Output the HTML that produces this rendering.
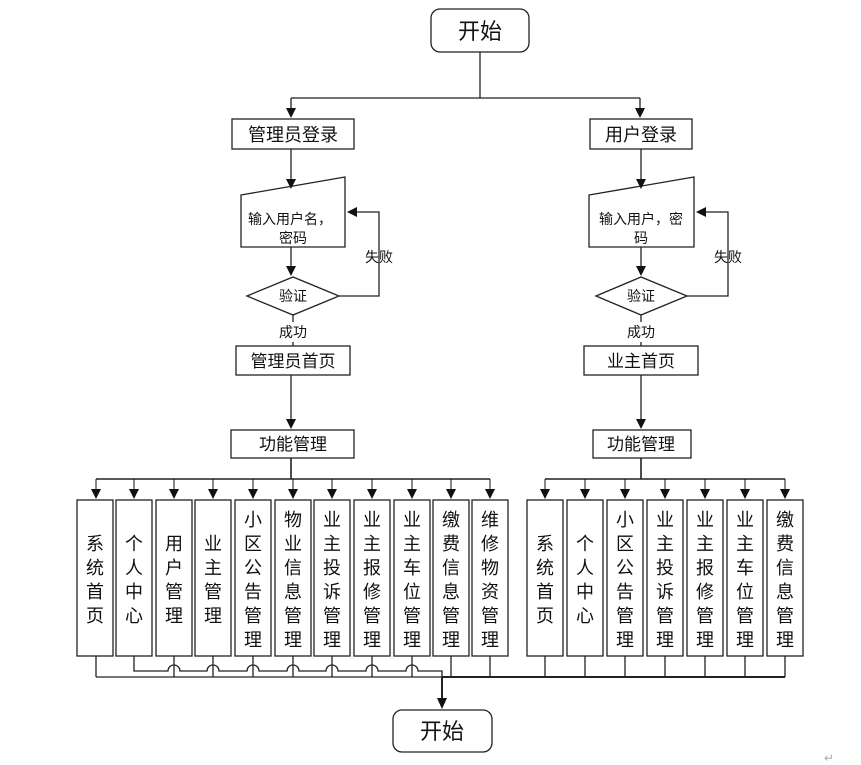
<!DOCTYPE html>
<html><head><meta charset="utf-8"><style>
html,body{margin:0;padding:0;background:#fff;}
svg{display:block;}
text{font-family:"Liberation Sans","Noto Sans CJK SC",sans-serif;fill:#111;}
</style></head><body>
<svg width="861" height="765" viewBox="0 0 861 765" xmlns="http://www.w3.org/2000/svg">
<g stroke="#222" stroke-width="1.3" fill="none">
<rect x="431" y="9" width="98" height="43" rx="9" fill="#fff"/>
<path d="M480 52V98M291 98H640M291 98V110M640 98V110"/>
<rect x="232" y="119" width="122" height="30" fill="#fff"/>
<path d="M291 149V180"/>
<path d="M241 195L345 177V247H241Z" fill="#fff"/>
<path d="M291 247V268"/>
<path d="M247 296L293 277L339 296L293 315Z" fill="#fff"/>
<path d="M339 296H379V212H356"/>
<path d="M293 315V322M293 342V346"/>
<rect x="236" y="346" width="114" height="29" fill="#fff"/>
<path d="M291 375V421"/>
<rect x="231" y="430" width="123" height="28" fill="#fff"/>
<path d="M291 458V479M96 479H490" stroke-width="1.6"/>
<rect x="590" y="119" width="102" height="30" fill="#fff"/>
<path d="M641 149V180"/>
<path d="M589 195L694 177V247H589Z" fill="#fff"/>
<path d="M641 247V268"/>
<path d="M596 296L641 277L687 296L641 315Z" fill="#fff"/>
<path d="M687 296H728V212H705"/>
<path d="M641 315V322M641 342V346"/>
<rect x="584" y="346" width="114" height="29" fill="#fff"/>
<path d="M641 375V421"/>
<rect x="593" y="430" width="98" height="28" fill="#fff"/>
<path d="M641 458V479M545 479H785" stroke-width="1.6"/>
<path d="M96 656V677M490 656V677"/>
<path d="M134 656V671H168a6 6 0 0 1 12 0H207a6 6 0 0 1 12 0H247a6 6 0 0 1 12 0H287a6 6 0 0 1 12 0H326a6 6 0 0 1 12 0H366a6 6 0 0 1 12 0H406a6 6 0 0 1 12 0H442V700"/>
<path d="M174 656V677M213 656V677M253 656V677M293 656V677M332 656V677M372 656V677M412 656V677M451 656V677"/>
<path d="M96 677H442"/>
<path d="M442 677H785" stroke-width="2"/>
<path d="M442 677V700" stroke-width="2"/>
<path d="M545 656V677M585 656V677M625 656V677M665 656V677M705 656V677M745 656V677M785 656V677"/>
<rect x="393" y="710" width="99" height="42" rx="9" fill="#fff"/>
</g>
<g fill="#111">
<path d="M286 108h10l-5 10z"/><path d="M635 108h10l-5 10z"/>
<path d="M286 179h10l-5 10z"/><path d="M636 179h10l-5 10z"/>
<path d="M286 266h10l-5 10z"/><path d="M636 266h10l-5 10z"/>
<path d="M286 419h10l-5 10z"/><path d="M636 419h10l-5 10z"/>
<path d="M357 207v10l-10-5z"/><path d="M706 207v10l-10-5z"/>
<path d="M437 698h10l-5 11z"/>
<path d="M91 489h10l-5 10zM129 489h10l-5 10zM169 489h10l-5 10zM208 489h10l-5 10zM248 489h10l-5 10zM288 489h10l-5 10zM327 489h10l-5 10zM367 489h10l-5 10zM407 489h10l-5 10zM446 489h10l-5 10zM485 489h10l-5 10z"/>
<path d="M540 489h10l-5 10zM580 489h10l-5 10zM620 489h10l-5 10zM660 489h10l-5 10zM700 489h10l-5 10zM740 489h10l-5 10zM780 489h10l-5 10z"/>
</g>
<g stroke="#111" stroke-width="1" fill="none">
<path d="M96 479V489M134 479V489M174 479V489M213 479V489M253 479V489M293 479V489M332 479V489M372 479V489M412 479V489M451 479V489M490 479V489"/>
<path d="M545 479V489M585 479V489M625 479V489M665 479V489M705 479V489M745 479V489M785 479V489"/>
</g>
<g stroke="#222" stroke-width="1.3" fill="#fff">
<rect x="77" y="500" width="36" height="156"/><rect x="116" y="500" width="36" height="156"/><rect x="156" y="500" width="36" height="156"/><rect x="195" y="500" width="36" height="156"/><rect x="235" y="500" width="36" height="156"/><rect x="275" y="500" width="36" height="156"/><rect x="314" y="500" width="36" height="156"/><rect x="354" y="500" width="36" height="156"/><rect x="394" y="500" width="36" height="156"/><rect x="433" y="500" width="36" height="156"/><rect x="472" y="500" width="36" height="156"/>
<rect x="527" y="500" width="36" height="156"/><rect x="567" y="500" width="36" height="156"/><rect x="607" y="500" width="36" height="156"/><rect x="647" y="500" width="36" height="156"/><rect x="687" y="500" width="36" height="156"/><rect x="727" y="500" width="36" height="156"/><rect x="767" y="500" width="36" height="156"/>
</g>
<g text-anchor="middle">
<text x="480" y="39" font-size="22">开始</text>
<text x="442" y="739" font-size="22">开始</text>
<text x="293" y="141" font-size="18">管理员登录</text>
<text x="641" y="141" font-size="18">用户登录</text>
<text x="290" y="224" font-size="14">输入用户名，</text>
<text x="293" y="243" font-size="14">密码</text>
<text x="641" y="224" font-size="14">输入用户，密</text>
<text x="641" y="243" font-size="14">码</text>
<text x="293" y="301" font-size="14">验证</text>
<text x="641" y="301" font-size="14">验证</text>
<text x="379" y="262" font-size="14">失败</text>
<text x="728" y="262" font-size="14">失败</text>
<text x="293" y="337" font-size="14">成功</text>
<text x="641" y="337" font-size="14">成功</text>
<text x="293" y="367" font-size="17">管理员首页</text>
<text x="641" y="367" font-size="17">业主首页</text>
<text x="293" y="450" font-size="17">功能管理</text>
<text x="641" y="450" font-size="17">功能管理</text>
</g>
<g text-anchor="middle" font-size="18">
<text x="95" y="550">系</text><text x="95" y="574">统</text><text x="95" y="598">首</text><text x="95" y="622">页</text>
<text x="134" y="550">个</text><text x="134" y="574">人</text><text x="134" y="598">中</text><text x="134" y="622">心</text>
<text x="174" y="550">用</text><text x="174" y="574">户</text><text x="174" y="598">管</text><text x="174" y="622">理</text>
<text x="213" y="550">业</text><text x="213" y="574">主</text><text x="213" y="598">管</text><text x="213" y="622">理</text>
<text x="253" y="526">小</text><text x="253" y="550">区</text><text x="253" y="574">公</text><text x="253" y="598">告</text><text x="253" y="622">管</text><text x="253" y="646">理</text>
<text x="293" y="526">物</text><text x="293" y="550">业</text><text x="293" y="574">信</text><text x="293" y="598">息</text><text x="293" y="622">管</text><text x="293" y="646">理</text>
<text x="332" y="526">业</text><text x="332" y="550">主</text><text x="332" y="574">投</text><text x="332" y="598">诉</text><text x="332" y="622">管</text><text x="332" y="646">理</text>
<text x="372" y="526">业</text><text x="372" y="550">主</text><text x="372" y="574">报</text><text x="372" y="598">修</text><text x="372" y="622">管</text><text x="372" y="646">理</text>
<text x="412" y="526">业</text><text x="412" y="550">主</text><text x="412" y="574">车</text><text x="412" y="598">位</text><text x="412" y="622">管</text><text x="412" y="646">理</text>
<text x="451" y="526">缴</text><text x="451" y="550">费</text><text x="451" y="574">信</text><text x="451" y="598">息</text><text x="451" y="622">管</text><text x="451" y="646">理</text>
<text x="490" y="526">维</text><text x="490" y="550">修</text><text x="490" y="574">物</text><text x="490" y="598">资</text><text x="490" y="622">管</text><text x="490" y="646">理</text>
<text x="545" y="550">系</text><text x="545" y="574">统</text><text x="545" y="598">首</text><text x="545" y="622">页</text>
<text x="585" y="550">个</text><text x="585" y="574">人</text><text x="585" y="598">中</text><text x="585" y="622">心</text>
<text x="625" y="526">小</text><text x="625" y="550">区</text><text x="625" y="574">公</text><text x="625" y="598">告</text><text x="625" y="622">管</text><text x="625" y="646">理</text>
<text x="665" y="526">业</text><text x="665" y="550">主</text><text x="665" y="574">投</text><text x="665" y="598">诉</text><text x="665" y="622">管</text><text x="665" y="646">理</text>
<text x="705" y="526">业</text><text x="705" y="550">主</text><text x="705" y="574">报</text><text x="705" y="598">修</text><text x="705" y="622">管</text><text x="705" y="646">理</text>
<text x="745" y="526">业</text><text x="745" y="550">主</text><text x="745" y="574">车</text><text x="745" y="598">位</text><text x="745" y="622">管</text><text x="745" y="646">理</text>
<text x="785" y="526">缴</text><text x="785" y="550">费</text><text x="785" y="574">信</text><text x="785" y="598">息</text><text x="785" y="622">管</text><text x="785" y="646">理</text>
</g>
<text x="824" y="762" font-size="12" style="fill:#aaa">↵</text>
</svg>
</body></html>
